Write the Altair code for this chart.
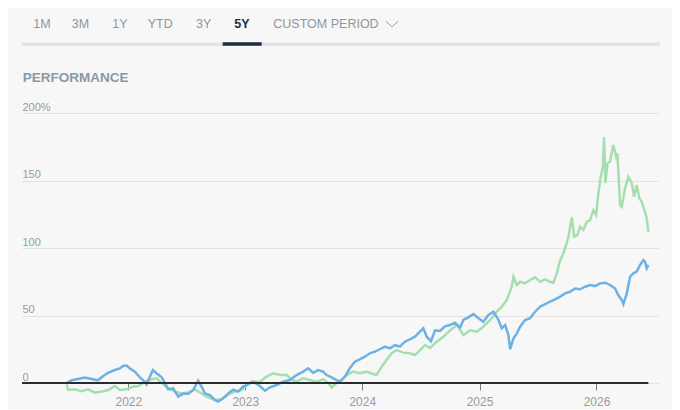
import altair as alt
import pandas as pd

# ---- data (decimal year, % performance) ----
blue_t = [2021.472, 2021.515, 2021.569, 2021.629, 2021.686, 2021.740, 2021.783, 2021.826,
          2021.885, 2021.928, 2021.954, 2021.985, 2022.014, 2022.056, 2022.099, 2022.125,
          2022.156, 2022.185, 2022.210, 2022.242, 2022.285, 2022.313, 2022.341, 2022.384,
          2022.426, 2022.469, 2022.512, 2022.555, 2022.597, 2022.626, 2022.655, 2022.697,
          2022.740, 2022.768, 2022.811, 2022.854, 2022.897, 2022.939, 2022.982, 2023.011,
          2023.068, 2023.125, 2023.168, 2023.210, 2023.268, 2023.324, 2023.381, 2023.438,
          2023.495, 2023.538, 2023.580, 2023.623, 2023.666, 2023.695, 2023.738, 2023.780,
          2023.809, 2023.851, 2023.894, 2023.937, 2023.979, 2024.022, 2024.065, 2024.108,
          2024.150, 2024.193, 2024.236, 2024.279, 2024.321, 2024.364, 2024.407, 2024.450,
          2024.492, 2024.521, 2024.550, 2024.586, 2024.621, 2024.663, 2024.706, 2024.749,
          2024.791, 2024.834, 2024.862, 2024.905, 2024.948, 2024.991, 2025.033, 2025.076,
          2025.119, 2025.162, 2025.190, 2025.219, 2025.247, 2025.262, 2025.290, 2025.319,
          2025.347, 2025.390, 2025.432, 2025.475, 2025.518, 2025.561, 2025.603, 2025.646,
          2025.689, 2025.732, 2025.774, 2025.817, 2025.860, 2025.903, 2025.945, 2025.988,
          2026.031, 2026.074, 2026.116, 2026.159, 2026.187, 2026.216, 2026.230, 2026.259,
          2026.287, 2026.315, 2026.344, 2026.373, 2026.401, 2026.415, 2026.430, 2026.444]
blue_v = [0, 2, 3, 4, 3, 2, 5, 7.6,
          9.6, 10.8, 12.6, 13, 10.8, 8.4, 4.2, 2.2,
          -1, 4.7, 9.6, 7.2, 4.2, 0, -4.7, -4,
          -10, -8, -8, -5.2, 1.7, -2.7, -7.7, -8.9,
          -12.6, -13.8, -11.4, -7.7, -5, -6.4, -2.7, -1.5,
          1, -2.2, -5.7, -3.2, -1.5, 1, 2.2, 5.9,
          8.4, 10.9, 7.6, 9.6, 8.4, 5.9, 4.2, 2.2,
          1, 4.7, 10.9, 15.8, 17.5, 19.5, 22, 23.2,
          25, 26.9, 25.7, 28, 27, 30.6, 32.4, 34.3,
          38, 40.5, 34.3, 31, 39, 38.5, 42, 43,
          44.7, 41, 46.7, 48.6, 51, 48, 45.4, 50.4,
          52.8, 46.7, 40.5, 43, 35.5, 25, 33, 36.8,
          41.7, 46.7, 48, 52.8, 56.5, 58.5, 60.2, 62,
          64, 66.4, 67.6, 70, 69.4, 71.3, 72.6, 71.8,
          73.8, 74.3, 72.6, 70, 65, 61.5, 58.5, 66.4,
          78.7, 81.2, 82.5, 87.4, 91, 89.9, 85, 87.4]

green_t = [2021.472, 2021.486, 2021.544, 2021.601, 2021.657, 2021.715, 2021.772, 2021.828,
           2021.885, 2021.928, 2021.985, 2022.042, 2022.085, 2022.127, 2022.170, 2022.213,
           2022.242, 2022.285, 2022.341, 2022.398, 2022.456, 2022.512, 2022.569, 2022.626,
           2022.683, 2022.740, 2022.797, 2022.854, 2022.911, 2022.968, 2023.011, 2023.054,
           2023.125, 2023.182, 2023.238, 2023.296, 2023.353, 2023.396, 2023.438, 2023.495,
           2023.552, 2023.609, 2023.666, 2023.709, 2023.738, 2023.780, 2023.823, 2023.866,
           2023.922, 2023.979, 2024.037, 2024.093, 2024.122, 2024.165, 2024.208, 2024.250,
           2024.293, 2024.350, 2024.407, 2024.450, 2024.492, 2024.535, 2024.578, 2024.635,
           2024.692, 2024.749, 2024.806, 2024.862, 2024.920, 2024.977, 2025.033, 2025.091,
           2025.148, 2025.190, 2025.233, 2025.276, 2025.290, 2025.319, 2025.347, 2025.390,
           2025.432, 2025.475, 2025.518, 2025.561, 2025.603, 2025.632, 2025.661, 2025.689,
           2025.703, 2025.732, 2025.760, 2025.789, 2025.809, 2025.837, 2025.860, 2025.888,
           2025.917, 2025.945, 2025.974, 2025.997, 2026.016, 2026.037, 2026.054, 2026.065,
           2026.076, 2026.094, 2026.116, 2026.144, 2026.168, 2026.179, 2026.202, 2026.216,
           2026.244, 2026.273, 2026.302, 2026.322, 2026.344, 2026.367, 2026.387, 2026.409,
           2026.427, 2026.444]
green_v = [-1, -5.2, -4.7, -6.1, -4.7, -7.1, -6.4, -5.2,
           -2.2, -5.2, -4.7, -2.7, -2.2, 0.2, 2.2, 3,
           3.5, 0, -4, -6.4, -7.7, -7.1, -4.7, -7.7,
           -10.6, -12.6, -12, -8.6, -6.4, -5.2, -1.2, 1,
           1, 4.7, 7.2, 5.9, 5.9, 2.7, 1, 3.4,
           2.2, 1, 2.7, 0, -3.2, 0, 2.2, 5.9,
           8.4, 7.2, 8.4, 6.7, 5.9, 12, 17, 22,
           24.4, 22.5, 22, 20.7, 24.4, 28, 26, 30.6,
           34.3, 39, 43, 35.5, 39, 38, 41.7, 46.7,
           52.8, 56.5, 61.5, 71.3, 78.7, 72.6, 75, 73.8,
           76.3, 78.3, 75, 76.8, 75, 74.3, 81.2, 91,
           93, 99.8, 108.4, 122.7, 108.4, 109.6, 115.8, 113.3,
           119.5, 120.7, 128.1, 124.4, 140.5, 152.8, 160.2, 182,
           148, 162.7, 164, 176.3, 167.6, 170.1, 131.9, 130.6,
           144.2, 152.8, 148, 138, 146.7, 136.8, 134.3, 128.1,
           123.2, 112]

y_ticks = [0, 50, 100, 150, 200]
x_years = [2022, 2023, 2024, 2025, 2026]
x_span = [2021.091, 2026.526]
tabs = ["1M", "3M", "1Y", "YTD", "3Y", "5Y", "CUSTOM PERIOD"]


def to_date(t):
    y = int(t // 1)
    a = pd.Timestamp(year=y, month=1, day=1)
    b = pd.Timestamp(year=y + 1, month=1, day=1)
    return (a + (b - a) * (t - y)).round("h")


blue = pd.DataFrame({"date": [to_date(t) for t in blue_t], "v": blue_v})
green = pd.DataFrame({"date": [to_date(t) for t in green_t], "v": green_v})
span = [to_date(t).strftime("%Y-%m-%dT%H:%M:%S") for t in x_span]
zero = pd.DataFrame({"date": [to_date(x_span[0])], "date2": [to_date(blue_t[-1])], "v": [0]})

x_enc = alt.X(
    "date:T",
    scale=alt.Scale(domain=span),
    axis=alt.Axis(
        values=[alt.DateTime(year=y, month=1, date=1) for y in x_years],
        format="%Y", title=None, grid=False, domain=False,
        ticks=True, tickSize=7, tickColor="#7a7a7a", tickWidth=1,
        labelColor="#9a9a9a", labelFontSize=12, labelPadding=6,
        labelFont="Liberation Sans",
    ),
)
y_enc = alt.Y(
    "v:Q",
    scale=alt.Scale(domain=[0, 200], nice=False, zero=False),
    axis=alt.Axis(
        values=y_ticks, title=None, domain=False, ticks=False,
        grid=True, gridColor="#e2e2e2", gridWidth=1,
        labelAlign="left", labelBaseline="alphabetic", labelPadding=0,
        labelOffset=-3, labelColor="#9a9a9a", labelFontSize=11,
        labelFont="Liberation Sans",
        labelExpr="datum.value == 200 ? '200%' : datum.label",
    ),
)

green_line = alt.Chart(green).mark_line(color="#a6dfae", strokeWidth=2.5).encode(x=x_enc, y=y_enc)
blue_line = alt.Chart(blue).mark_line(color="#6cb2e4", strokeWidth=2.5).encode(x="date:T", y="v:Q")
zero_line = alt.Chart(zero).mark_rule(color="#2b2b2b", strokeWidth=2).encode(
    x="date:T", x2="date2:T", y="v:Q")

one = alt.Data(values=[{}])


def txt(s, x, y, color, bold=False, size=12):
    return alt.Chart(one).mark_text(
        text=s, align="left", baseline="alphabetic", font="Liberation Sans",
        fontSize=size, fontWeight="bold" if bold else "normal", color=color,
    ).encode(x=alt.value(x), y=alt.value(y))


def seg(x, x2, y, y2, color, w):
    return alt.Chart(one).mark_rule(color=color, strokeWidth=w).encode(
        x=alt.value(x), x2=alt.value(x2), y=alt.value(y), y2=alt.value(y2))


tab_x = [11.3, 49.7, 90.3, 125.7, 174, 212.3, 251.3]
chrome = [seg(0, 638, -68.8, -68.8, "#e3e3e3", 3.5),
          seg(200.7, 239.7, -69, -69, "#1d2f47", 3.5)]
for s, x in zip(tabs, tab_x):
    if s == "5Y":
        chrome.append(txt(s, x, -84.7, "#1d2f47", bold=True, size=12.5))
    else:
        chrome.append(txt(s, x, -84.7, "#8f969d", size=12.5))
chrome.append(seg(364, 370, -91.5, -86.3, "#9aa0a6", 1))
chrome.append(seg(370, 376, -86.3, -91.5, "#9aa0a6", 1))
chrome.append(txt("PERFORMANCE", 0.7, -31, "#8d98a5", bold=True, size=13.5))

chart = alt.layer(green_line, blue_line, zero_line, *chrome).properties(
    width=636, height=270,
    padding={"left": 14, "top": 105, "right": 14, "bottom": 26},
    autosize=alt.AutoSizeParams(type="none"),
    background="#f7f7f7",
).configure_view(stroke=None)

chart.save("out.html", embed_options={"renderer": "svg", "actions": False})
